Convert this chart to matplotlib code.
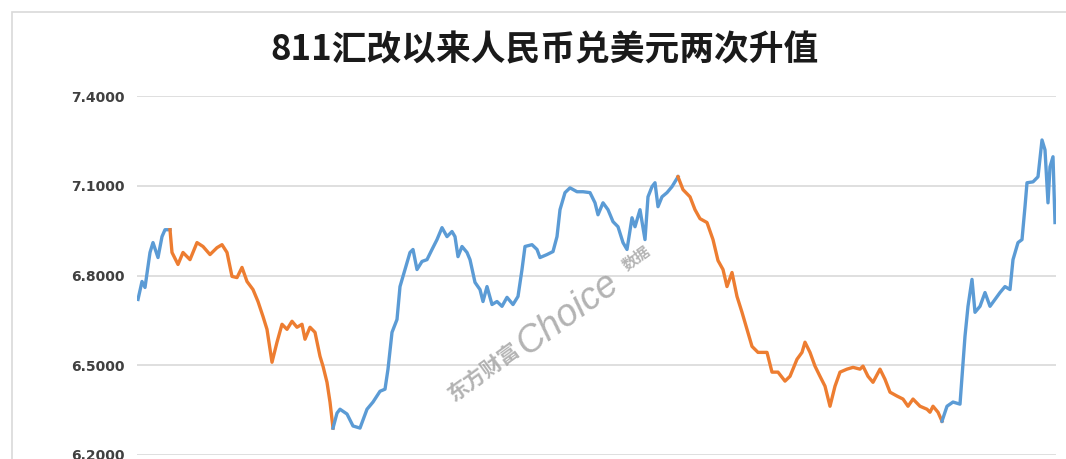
import numpy as np
import matplotlib
matplotlib.use("Agg")
import matplotlib.pyplot as plt
from matplotlib.patches import Rectangle
from matplotlib.ticker import FormatStrFormatter

plt.rcParams['font.family'] = ['Noto Sans CJK SC', 'DejaVu Sans']

# trading-day index and USD/CNY rate
day = [1, 5, 8, 13, 16, 21, 25, 28, 33,
       35, 41, 46, 53, 60, 66, 73, 80, 85, 90, 95, 100, 105, 110, 116, 121, 126, 130,
       135, 140, 145, 150, 155, 160, 165, 168, 173, 178, 183, 186, 190, 193, 196,
       200, 203, 210, 216, 223, 230, 236, 243, 248, 251, 255, 260, 263, 268, 273, 276,
       280, 285, 290, 295, 300, 305, 310, 315, 318, 321, 325, 330, 333, 338, 343, 346,
       350, 355, 360, 365, 370, 376, 381, 385, 388, 395, 400, 403, 410, 416, 420, 423,
       428, 433, 440, 446, 453, 458, 461, 466, 471, 476, 481, 486, 490, 495, 498, 503,
       508, 511, 515, 518, 521, 525, 530, 535, 541,
       546, 553, 558, 563, 570, 576, 581, 586, 590, 595, 600, 605, 610, 615, 621, 630,
       635, 641, 648, 653, 660, 665, 668, 673, 678, 683, 688, 693, 698, 703, 710, 716,
       723, 726, 731, 736, 743, 748, 753, 760, 766, 771, 776, 783, 790, 793, 796, 801,
       805,
       810, 816, 823, 828, 831, 835, 838, 843, 848, 853, 858, 863, 868, 873, 876, 881,
       885, 888, 890, 896, 901, 905, 908, 911, 913, 916, 918]
rate = [6.720, 6.780, 6.760, 6.877, 6.910, 6.860, 6.930, 6.953, 6.953,
        6.877, 6.837, 6.877, 6.853, 6.910, 6.897, 6.870, 6.893, 6.903, 6.877, 6.797,
        6.793, 6.827, 6.780, 6.753, 6.713, 6.663, 6.620, 6.510, 6.577, 6.637, 6.620,
        6.647, 6.627, 6.637, 6.587, 6.627, 6.610, 6.530, 6.497, 6.443, 6.377, 6.290,
        6.340, 6.353, 6.337, 6.297, 6.290, 6.353, 6.377, 6.413, 6.420, 6.487, 6.610,
        6.653, 6.763, 6.820, 6.877, 6.887, 6.820, 6.847, 6.853, 6.887, 6.920, 6.960,
        6.930, 6.947, 6.930, 6.863, 6.897, 6.877, 6.853, 6.777, 6.753, 6.713, 6.763,
        6.703, 6.713, 6.697, 6.727, 6.703, 6.730, 6.820, 6.897, 6.903, 6.887, 6.860,
        6.870, 6.880, 6.930, 7.020, 7.077, 7.093, 7.080, 7.080, 7.077, 7.043, 7.003,
        7.043, 7.020, 6.980, 6.963, 6.910, 6.887, 6.993, 6.963, 7.020, 6.920, 7.063,
        7.097, 7.110, 7.030, 7.063, 7.077, 7.097, 7.130,
        7.087, 7.063, 7.020, 6.990, 6.977, 6.920, 6.850, 6.820, 6.763, 6.810, 6.730,
        6.677, 6.620, 6.563, 6.543, 6.543, 6.477, 6.477, 6.447, 6.463, 6.520, 6.543,
        6.577, 6.543, 6.497, 6.463, 6.430, 6.363, 6.430, 6.477, 6.487, 6.493, 6.487,
        6.497, 6.463, 6.443, 6.487, 6.453, 6.410, 6.397, 6.387, 6.363, 6.387, 6.363,
        6.353, 6.343, 6.363, 6.343, 6.313,
        6.363, 6.377, 6.370, 6.597, 6.697, 6.787, 6.677, 6.697, 6.743, 6.697, 6.720,
        6.743, 6.763, 6.753, 6.853, 6.910, 6.920, 7.030, 7.110, 7.113, 7.130, 7.253,
        7.220, 7.043, 7.163, 7.197, 6.977]

# the two appreciation phases (orange), in trading days
appreciation = [(33, 196), (541, 805)]

yticks = [6.2, 6.5, 6.8, 7.1, 7.4]
title = "811汇改以来人民币兑美元两次升值"

blue = "#5b9bd5"
orange = "#ed7d31"

day = np.array(day)
rate = np.array(rate)

fig = plt.figure(figsize=(10.66, 4.59), dpi=100)
W, H = 1066, 459

# chart area border
fig.patches.append(Rectangle((12 / W, -0.1), 1.2, 1 - 12 / H + 0.1,
                             transform=fig.transFigure, fill=False,
                             edgecolor="#d9d9d9", linewidth=1.2))

ax = fig.add_axes([137 / W, (H - 455) / H, (1056 - 137) / W, (455 - 96) / H])

# blue everywhere, orange over the appreciation phases
bounds = [0] + [b for p in appreciation for b in p] + [day.max()]
for i in range(len(bounds) - 1):
    lo, hi = bounds[i], bounds[i + 1]
    m = (day >= lo) & (day <= hi)
    ax.plot(day[m], rate[m], color=orange if i % 2 else blue, lw=2.4,
            solid_joinstyle="round", zorder=3)

ax.set_xlim(0, 919)
ax.set_ylim(6.2, 7.4)
ax.set_yticks(yticks)
ax.yaxis.set_major_formatter(FormatStrFormatter('%.4f'))
ax.set_xticks([])
ax.grid(axis="y", color="#d9d9d9", lw=1.2)
ax.set_axisbelow(True)
for s in ax.spines.values():
    s.set_visible(False)
ax.tick_params(axis="y", length=0, pad=9, labelsize=10, labelcolor="#404040")
for lab in ax.get_yticklabels():
    lab.set_fontfamily("DejaVu Sans")
    lab.set_fontweight("bold")

fig.text(544 / W, 1 - 50 / H, title, ha="center", va="center",
         fontsize=25, fontweight="bold", color="#1a1a1a")

# watermark
wm = dict(rotation=36, rotation_mode="anchor", ha="center", va="center",
          color="#9a9a9a", alpha=0.75, zorder=4)
ax.text(484 / W, 1 - 372 / H, "东方财富", transform=fig.transFigure,
        fontsize=15, fontweight="bold", **wm)
ax.text(568 / W, 1 - 314 / H, "Choice", transform=fig.transFigure,
        fontsize=27, family="Liberation Sans", style="italic", **wm)
ax.text(636 / W, 1 - 258 / H, "数据", transform=fig.transFigure,
        fontsize=11, fontweight="bold", **wm)

fig.savefig("out.png", dpi=100)
